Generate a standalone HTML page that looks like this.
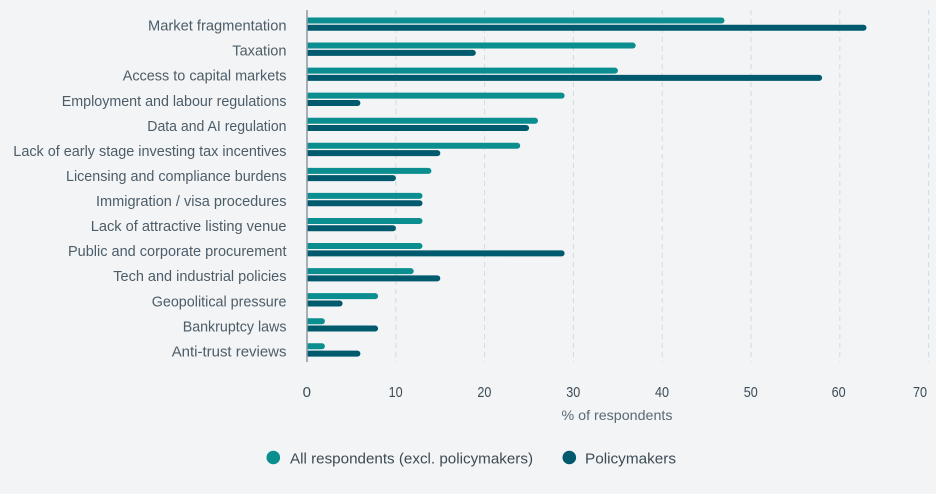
<!DOCTYPE html>
<html><head><meta charset="utf-8"><style>
html,body{margin:0;padding:0;background:#f2f4f6;}
svg{display:block;}
text{font-family:"Liberation Sans",sans-serif;}
</style></head><body>
<svg width="936" height="494" viewBox="0 0 936 494" xmlns="http://www.w3.org/2000/svg">
<rect width="936" height="494" fill="#f2f4f6"/>
<defs><clipPath id="c"><rect x="307" y="0" width="629" height="400"/></clipPath></defs>
<g stroke="#d3dade" stroke-width="1" stroke-dasharray="5,4">
<line x1="395.8" y1="10" x2="395.8" y2="362"/>
<line x1="484.6" y1="10" x2="484.6" y2="362"/>
<line x1="573.4" y1="10" x2="573.4" y2="362"/>
<line x1="662.2" y1="10" x2="662.2" y2="362"/>
<line x1="751" y1="10" x2="751" y2="362"/>
<line x1="839.8" y1="10" x2="839.8" y2="362"/>
<line x1="928.6" y1="10" x2="928.6" y2="362"/>
</g>
<g clip-path="url(#c)" stroke-width="6" stroke-linecap="round">
<g stroke="#0a8e8f">
<line x1="300" y1="20.5" x2="721.5" y2="20.5"/>
<line x1="300" y1="45.56" x2="632.7" y2="45.56"/>
<line x1="300" y1="70.62" x2="614.9" y2="70.62"/>
<line x1="300" y1="95.68" x2="561.6" y2="95.68"/>
<line x1="300" y1="120.74" x2="535" y2="120.74"/>
<line x1="300" y1="145.8" x2="517.2" y2="145.8"/>
<line x1="300" y1="170.86" x2="428.4" y2="170.86"/>
<line x1="300" y1="195.92" x2="419.5" y2="195.92"/>
<line x1="300" y1="220.98" x2="419.5" y2="220.98"/>
<line x1="300" y1="246.04" x2="419.5" y2="246.04"/>
<line x1="300" y1="271.1" x2="410.7" y2="271.1"/>
<line x1="300" y1="296.16" x2="375.1" y2="296.16"/>
<line x1="300" y1="321.22" x2="321.9" y2="321.22"/>
<line x1="300" y1="346.28" x2="321.9" y2="346.28"/>
</g>
<g stroke="#005a6e">
<line x1="300" y1="27.8" x2="863.5" y2="27.8"/>
<line x1="300" y1="52.86" x2="472.8" y2="52.86"/>
<line x1="300" y1="77.92" x2="819.1" y2="77.92"/>
<line x1="300" y1="102.98" x2="357.4" y2="102.98"/>
<line x1="300" y1="128.04" x2="526.1" y2="128.04"/>
<line x1="300" y1="153.1" x2="437.3" y2="153.1"/>
<line x1="300" y1="178.16" x2="392.9" y2="178.16"/>
<line x1="300" y1="203.22" x2="419.5" y2="203.22"/>
<line x1="300" y1="228.28" x2="392.9" y2="228.28"/>
<line x1="300" y1="253.34" x2="561.6" y2="253.34"/>
<line x1="300" y1="278.4" x2="437.3" y2="278.4"/>
<line x1="300" y1="303.46" x2="339.6" y2="303.46"/>
<line x1="300" y1="328.52" x2="375.1" y2="328.52"/>
<line x1="300" y1="353.58" x2="357.4" y2="353.58"/>
</g>
</g>
<line x1="307" y1="10" x2="307" y2="362" stroke="#8d989f" stroke-width="1.5"/>
<g fill="#4d5d68" font-size="15" text-anchor="end">
<text x="286.5" y="30.6" textLength="138.5" lengthAdjust="spacingAndGlyphs">Market fragmentation</text>
<text x="286.5" y="55.66" textLength="54.2" lengthAdjust="spacingAndGlyphs">Taxation</text>
<text x="286.5" y="80.72" textLength="163.8" lengthAdjust="spacingAndGlyphs">Access to capital markets</text>
<text x="286.5" y="105.78" textLength="224.8" lengthAdjust="spacingAndGlyphs">Employment and labour regulations</text>
<text x="286.5" y="130.84" textLength="139.2" lengthAdjust="spacingAndGlyphs">Data and AI regulation</text>
<text x="286.5" y="155.9" textLength="273.2" lengthAdjust="spacingAndGlyphs">Lack of early stage investing tax incentives</text>
<text x="286.5" y="180.96" textLength="220.5" lengthAdjust="spacingAndGlyphs">Licensing and compliance burdens</text>
<text x="286.5" y="206.02" textLength="190.5" lengthAdjust="spacingAndGlyphs">Immigration / visa procedures</text>
<text x="286.5" y="231.08" textLength="195.8" lengthAdjust="spacingAndGlyphs">Lack of attractive listing venue</text>
<text x="286.5" y="256.14" textLength="218.5" lengthAdjust="spacingAndGlyphs">Public and corporate procurement</text>
<text x="286.5" y="281.2" textLength="173.2" lengthAdjust="spacingAndGlyphs">Tech and industrial policies</text>
<text x="286.5" y="306.26" textLength="134.8" lengthAdjust="spacingAndGlyphs">Geopolitical pressure</text>
<text x="286.5" y="331.32" textLength="103.8" lengthAdjust="spacingAndGlyphs">Bankruptcy laws</text>
<text x="286.5" y="356.38" textLength="114.8" lengthAdjust="spacingAndGlyphs">Anti-trust reviews</text>
</g>
<g fill="#3d4b55" font-size="15" text-anchor="middle">
<text x="306.8" y="397">0</text>
<text x="395.6" y="397" textLength="14" lengthAdjust="spacingAndGlyphs">10</text>
<text x="484.4" y="397" textLength="14" lengthAdjust="spacingAndGlyphs">20</text>
<text x="573.2" y="397" textLength="14" lengthAdjust="spacingAndGlyphs">30</text>
<text x="662" y="397" textLength="14" lengthAdjust="spacingAndGlyphs">40</text>
<text x="750.8" y="397" textLength="14" lengthAdjust="spacingAndGlyphs">50</text>
<text x="838.6" y="397" textLength="14" lengthAdjust="spacingAndGlyphs">60</text>
<text x="920" y="397" textLength="14" lengthAdjust="spacingAndGlyphs">70</text>
</g>
<text x="617" y="420" font-size="14" fill="#5a6a74" text-anchor="middle" textLength="111" lengthAdjust="spacingAndGlyphs">% of respondents</text>
<circle cx="273.3" cy="457.5" r="6.8" fill="#0a8e8f"/>
<text x="290" y="463.3" font-size="15" fill="#3d4b55" textLength="243" lengthAdjust="spacingAndGlyphs">All respondents (excl. policymakers)</text>
<circle cx="569.3" cy="457.5" r="6.8" fill="#005a6e"/>
<text x="585" y="463.3" font-size="15" fill="#3d4b55" textLength="91" lengthAdjust="spacingAndGlyphs">Policymakers</text>
</svg>
</body></html>
